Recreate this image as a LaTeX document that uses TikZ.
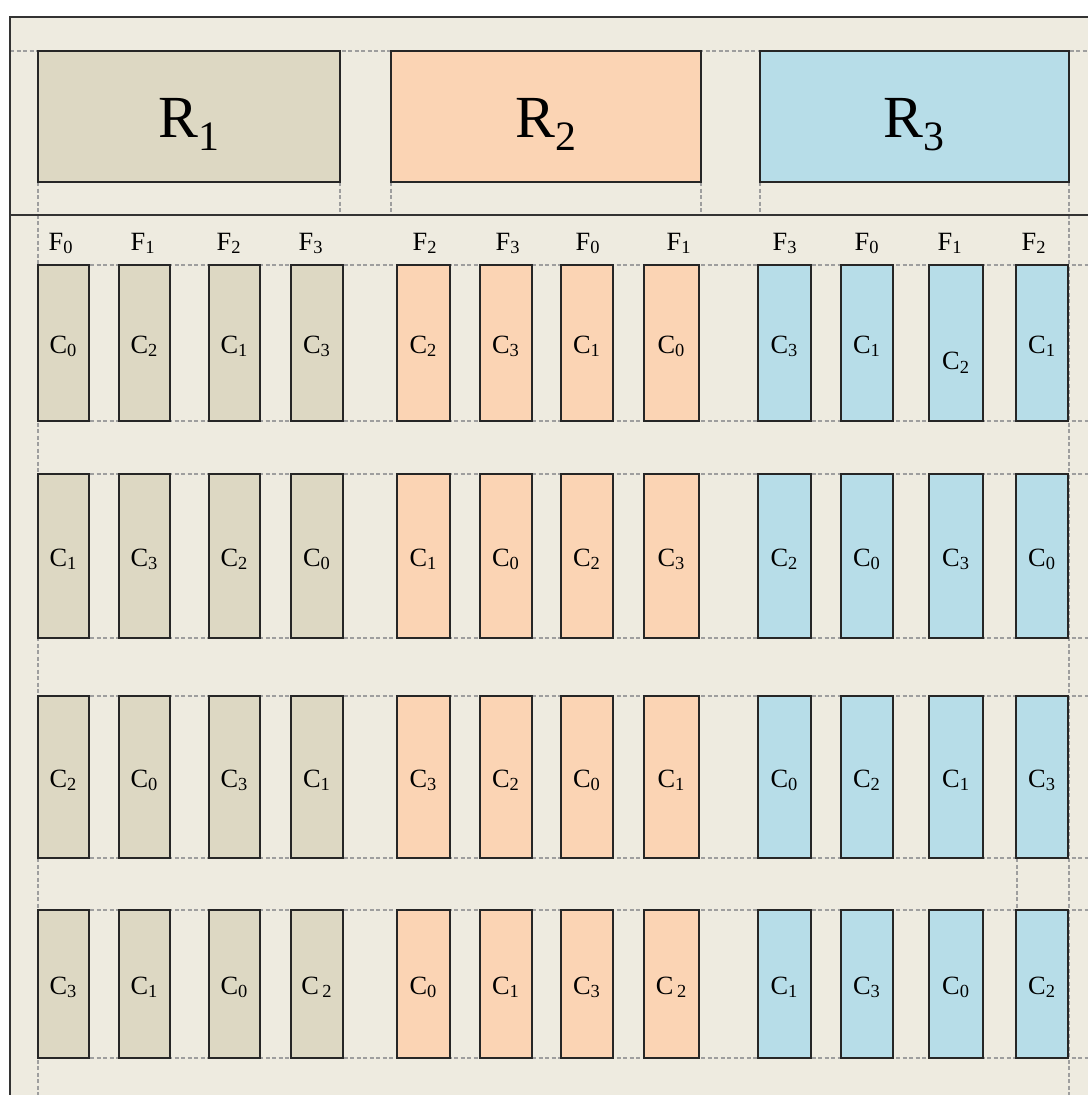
\documentclass[tikz,border=0pt]{standalone}
\usepackage{fontspec}
\setmainfont{Liberation Serif}
\definecolor{paper}{HTML}{EEEBE0}
\definecolor{tanfill}{HTML}{DDD8C3}
\definecolor{peachfill}{HTML}{FBD4B4}
\definecolor{bluefill}{HTML}{B7DDE8}
\definecolor{guidegray}{HTML}{9E9E9E}
\tikzset{
  frame/.style={draw=black!80,line width=1.1pt},
  guide/.style={draw=guidegray,line width=1pt,dash pattern=on 2.3pt off 1.4pt},
  rbox/.style={draw=black!85,line width=1.3pt,inner sep=0pt,outer sep=0pt},
  rlabel/.style={inner sep=0pt,anchor=base,font=\fontsize{34}{36}\selectfont},
  cbox/.style={draw=black!85,line width=1.3pt,inner sep=0pt,outer sep=0pt},
  clabel/.style={inner sep=0pt,anchor=base,yshift=-0.2cm,font=\fontsize{15}{17}\selectfont},
  flabel/.style={inner sep=0pt,anchor=base,font=\fontsize{15}{17}\selectfont},
  cell 1-11/.style={yshift=-0.34cm},
}
\def\colleft{{38,119,209,291,397,480,561,644,758,841,929,1016}}
\def\colright{{89,170,260,343,450,532,613,699,811,893,983,1068}}

\begin{document}
\begin{tikzpicture}[x=0.02cm,y=-0.02cm]
  \useasboundingbox (0,0) rectangle (1088,1095);
  \fill[paper] (10,17) rectangle (1088,1095);
  % dashed guides
  \draw[guide] (10,51) -- (1088,51);
  \foreach \y in {265,421,474,638,696,858,910,1058}
    \draw[guide] (38,\y) -- (1088,\y);
  \foreach \x in {340,391,701,760}
    \draw[guide] (\x,182) -- (\x,215);
  \draw[guide] (38,182) -- (38,1095);
  \draw[guide] (1069,182) -- (1069,1095);
  \draw[guide] (1017,858) -- (1017,910);
  % frame
  \draw[frame] (10,1095) -- (10,17) -- (1088,17);
  \draw[frame] (10,215) -- (1088,215);
  % resource blocks
  \node[rbox,fill=tanfill,minimum width=6.04cm,minimum height=2.62cm] (r1) at (189,116.5) {};
  \node[rbox,fill=peachfill,minimum width=6.2cm,minimum height=2.62cm] (r2) at (546,116.5) {};
  \node[rbox,fill=bluefill,minimum width=6.18cm,minimum height=2.62cm] (r3) at (914.5,116.5) {};
  \foreach \n in {1,2,3}
    \node[rlabel] (r\n-text) at ([yshift=-0.43cm]r\n.center) {R\textsubscript{\n}};
  % frequency labels
  \foreach \x/\f [count=\j] in {61/0,143/1,229/2,311/3,425/2,508/3,588/0,679/1,785/3,867/0,950/1,1034/2}
    \node[flabel] (f-\j) at (\x,250) {F\textsubscript{\f}};
  % channel cells
  \foreach \yt/\yb/\cells [count=\i] in {
      265/421/{0,2,1,3,2,3,1,0,3,1,2,1},
      474/638/{1,3,2,0,1,0,2,3,2,0,3,0},
      696/858/{2,0,3,1,3,2,0,1,0,2,1,3},
      910/1058/{3,1,0,{\kern2pt 2},0,1,3,{\kern2pt 2},1,3,0,2}}
    \foreach \k [count=\j] in \cells {
      \pgfmathsetmacro\xl{\colleft[\j-1]}
      \pgfmathsetmacro\xr{\colright[\j-1]}
      \pgfmathtruncatemacro\grp{(\j-1)/4}
      \ifcase\grp \def\fc{tanfill}\or \def\fc{peachfill}\else \def\fc{bluefill}\fi
      \node[cbox,fill=\fc,minimum width={(\xr-\xl)*0.02cm},minimum height={(\yb-\yt)*0.02cm}]
        (c-\i-\j) at ({(\xl+\xr)/2},{(\yt+\yb)/2}) {};
      \node[clabel,cell \i-\j/.try] (c-\i-\j-text) at (c-\i-\j.center) {C\textsubscript{\k}};
    }
\end{tikzpicture}
\end{document}
